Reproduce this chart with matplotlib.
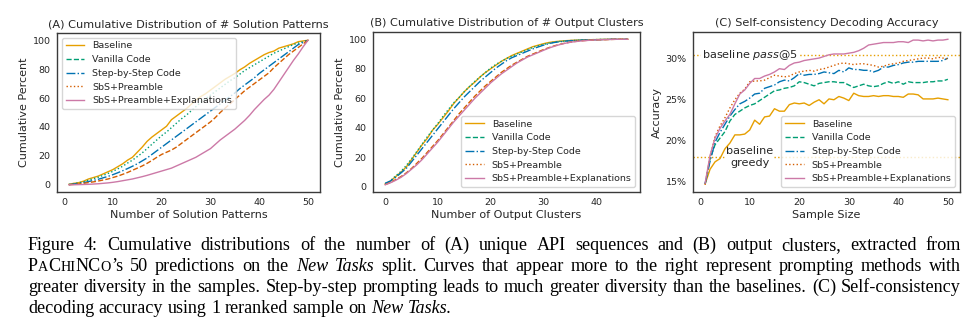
import matplotlib
matplotlib.use("Agg")
import matplotlib.pyplot as plt
from matplotlib.lines import Line2D
from matplotlib.ticker import FuncFormatter

methods = ["Baseline", "Vanilla Code", "Step-by-Step Code", "SbS+Preamble",
           "SbS+Preamble+Explanations"]
colors = ["#E69F00", "#009E73", "#0072B2", "#D55E00", "#CC79A7"]

# (A) cumulative percent vs number of solution patterns
patterns_x = list(range(1, 51))
patterns_baseline = [0.3, 1, 1.5, 2.5, 4, 5, 6, 7.5, 9, 10.5, 12.5, 14.5, 17, 19, 22.5,
                     26, 30, 33, 35.5, 38, 40.5, 45, 47.5, 50, 52.5, 55.5, 58.5, 61, 63,
                     65.5, 68, 70.5, 73, 75, 77, 79.5, 81.5, 84, 86, 88, 90, 91.5, 92.5,
                     94.5, 95.5, 96.5, 97.5, 99, 99.5, 100]
patterns_vanilla = [0.2, 0.8, 1.3, 2, 3.2, 4.2, 5.2, 6.5, 7.8, 9.3, 11, 12.8, 15, 17, 19.5,
                    22, 25, 28, 31, 34, 36.5, 39.5, 42.5, 45.5, 48, 51, 54, 57, 59.5, 62,
                    64.5, 67, 69.5, 72, 74, 76.5, 79, 81, 83, 85, 87, 89, 91, 92.5, 94,
                    95.5, 97, 98, 99, 100]
patterns_sbs = [0.1, 0.5, 1, 1.5, 2.2, 3, 3.8, 4.8, 5.8, 7, 8.3, 9.7, 11.2, 12.8, 14.5,
                16.5, 18.5, 21, 23.5, 26, 28.5, 31, 33.5, 36, 38.5, 41, 43.5, 46, 48.5,
                51, 53.5, 56, 58.5, 61, 63.5, 66.5, 69, 71.5, 74, 77, 79.5, 82, 84.5, 87,
                89.5, 92, 94.5, 97, 98.5, 100]
patterns_preamble = [0, 0.3, 0.6, 1, 1.5, 2, 2.6, 3.3, 4, 5, 6, 7.2, 8.5, 10, 11.5, 13,
                     14.8, 16.8, 19, 21, 22.5, 24, 26, 28.5, 31, 33.5, 36, 38.5, 41, 43.5,
                     46.5, 50, 53, 56, 59, 62, 65, 67.5, 70, 72.5, 75, 77.5, 81, 84, 87,
                     90, 92.5, 95, 97.5, 100]
patterns_expl = [0, 0, 0.1, 0.2, 0.3, 0.5, 0.7, 1, 1.3, 1.7, 2.2, 2.8, 3.4, 4, 4.8, 5.6,
                 6.5, 7.5, 8.5, 9.5, 10.5, 11.5, 13, 14.5, 16, 17.5, 19, 21, 23, 25, 28,
                 31, 33.5, 36, 38.5, 41.5, 44.5, 48, 52, 55.5, 59, 62, 66, 71, 76, 81, 86,
                 90.5, 95.5, 100]

# (B) cumulative percent vs number of output clusters
clusters_x = list(range(0, 47))
clusters_baseline = [2, 4, 7, 10, 13.5, 18.5, 23.5, 28.5, 33, 38.5, 42.5, 47, 51.5, 56.5,
                     60.5, 64.5, 68, 71, 74.5, 77.5, 80, 82.5, 85, 87, 89, 90.5, 92, 93.5,
                     95, 96, 97, 97.8, 98.3, 98.7, 99, 99.2, 99.4, 99.5, 99.6, 99.7, 99.8,
                     99.9, 99.9, 100, 100, 100, 100]
clusters_vanilla = [2, 4.2, 7.5, 10.5, 14.5, 19, 24, 29, 34, 38.5, 43, 48, 52.5, 57, 60.5,
                    64.5, 68, 71.5, 74.5, 77.5, 80.5, 83, 85, 87, 88.5, 90, 91.5, 93,
                    94.5, 95.5, 96.5, 97.3, 98, 98.5, 98.8, 99.1, 99.3, 99.5, 99.6, 99.7,
                    99.8, 99.9, 100, 100, 100, 100, 100]
clusters_sbs = [2.5, 4, 6.5, 9.5, 12.5, 17, 21.5, 26, 30.5, 35, 39.5, 44, 48.5, 53, 57,
                61, 64.5, 68, 71.5, 74.5, 77.5, 80.5, 83, 85.5, 87.5, 89, 90.5, 92, 93.5,
                94.8, 96, 97, 97.8, 98.3, 98.7, 99, 99.2, 99.4, 99.5, 99.6, 99.7, 99.8,
                99.9, 100, 100, 100, 100]
clusters_preamble = [1.5, 3, 5, 7, 9.5, 12.5, 16, 19.5, 23.5, 27.5, 31.5, 36, 40.5, 45,
                     49.5, 53.5, 57.5, 61.5, 65, 68.5, 71.5, 74.5, 77.5, 80, 82.5, 84.5,
                     86.5, 88.5, 90, 91.5, 93, 94.3, 95.5, 96.5, 97.3, 98, 98.5, 98.9,
                     99.2, 99.4, 99.6, 99.7, 99.8, 99.9, 100, 100, 100]
clusters_expl = [1.5, 2.8, 4.5, 6.5, 9, 12, 15, 18.5, 22.5, 26.5, 30.5, 35, 39.5, 44, 48,
                 52, 56, 60, 63.5, 67, 70.5, 73.5, 76.5, 79, 81.5, 84, 86, 88, 89.5, 91,
                 92.5, 94, 95.2, 96.3, 97.2, 97.9, 98.4, 98.8, 99.1, 99.4, 99.6, 99.7,
                 99.8, 99.9, 100, 100, 100]

# (C) self-consistency accuracy (%) vs sample size
samples_x = list(range(1, 51))
acc_baseline = [14.7, 16.5, 17.4, 17.8, 19, 19.7, 20.7, 20.7, 20.8, 21.3, 22.5, 22, 22.9,
                23, 23.9, 23.6, 23.6, 24.4, 24.6, 24.5, 24.6, 24.3, 24.7, 25, 24.5, 25.1,
                25, 25.4, 25.2, 24.9, 25.8, 25.5, 25.4, 25.4, 25.5, 25.4, 25.5, 25.5,
                25.4, 25.4, 25.3, 25.7, 25.7, 25.6, 25.1, 25.1, 25.1, 25.2, 25.1, 25.0]
acc_vanilla = [14.7, 17.8, 19.5, 20.3, 21.1, 22.4, 23.2, 23.6, 24, 24.3, 24.5, 24.9, 25.3,
               25.7, 26.1, 26.2, 26.4, 26.5, 26.7, 27.2, 27.1, 26.9, 26.7, 27, 27.1, 27.2,
               27.2, 27.1, 27.1, 26.8, 26.5, 26.7, 26.9, 26.7, 26.6, 26.7, 27, 27.2, 27,
               27.2, 26.9, 27.2, 27.1, 27.1, 27.1, 27.2, 27.2, 27.3, 27.3, 27.5]
acc_sbs = [14.7, 17.5, 19.8, 21, 22, 23, 23.8, 24.5, 24.8, 25.2, 25.7, 25.8, 26.4, 26.6,
           26.8, 27.2, 27.4, 27.3, 27.7, 28.2, 28, 28.1, 28.1, 28.2, 28.4, 28.3, 28.2,
           28.6, 28.4, 28.9, 28.7, 28.7, 28.6, 28.6, 28.4, 28.6, 29, 29, 29.2, 29.3, 29.5,
           29.6, 29.6, 29.7, 29.7, 29.7, 29.7, 29.7, 29.8, 30.1]
acc_preamble = [14.6, 18, 20.5, 21.8, 22.8, 24, 25, 25.8, 26.3, 27.2, 27.3, 27.3, 27.4,
                27.7, 28, 27.9, 27.8, 27.9, 28.2, 28.4, 28.5, 28.6, 28.5, 28.7, 28.8, 29,
                29.2, 29.4, 29.5, 29.4, 29.3, 29.4, 29.4, 29.3, 29.2, 29, 29.1, 29.3, 29.4,
                29.5, 29.7, 29.8, 29.9, 30, 30.1, 30.1, 30, 30.2, 30.1, 30.0]
acc_expl = [14.8, 18.2, 20.3, 21.5, 22.4, 23.2, 24.5, 25.7, 26.2, 27, 27.6, 27.6, 27.9,
            28.1, 28.4, 28.8, 28.7, 29.2, 29.5, 29.6, 29.8, 29.9, 30, 30.1, 30.3, 30.5,
            30.6, 30.6, 30.6, 30.7, 30.8, 31, 31.3, 31.7, 31.8, 31.9, 32, 32, 32, 32.1,
            32.1, 32, 32.3, 32.3, 32.2, 32.3, 32.2, 32.3, 32.3, 32.4]
pass_at_5 = 30.5
greedy = 18.0

caption_lines = [
    [[("Figure", "n")], [("4:", "n")], [("Cumulative", "n")], [("distributions", "n")],
     [("of", "n")], [("the", "n")], [("number", "n")], [("of", "n")], [("(A)", "n")],
     [("unique", "n")], [("API", "n")], [("sequences", "n")], [("and", "n")],
     [("(B)", "n")], [("output", "n")], [("clusters,", "n")], [("extracted", "n")],
     [("from", "n")]],
    [[("P", "n"), ("A", "s"), ("C", "n"), ("HI", "s"), ("NC", "n"), ("O", "s"), ("\u2019s", "n")],
     [("50", "n")], [("predictions", "n")], [("on", "n")], [("the", "n")],
     [("New", "i")], [("Tasks", "i")], [("split.", "n")], [("Curves", "n")],
     [("that", "n")], [("appear", "n")], [("more", "n")], [("to", "n")], [("the", "n")],
     [("right", "n")], [("represent", "n")], [("prompting", "n")], [("methods", "n")],
     [("with", "n")]],
    [[(w, "n")] for w in ("greater diversity in the samples. Step-by-step prompting leads "
                          "to much greater diversity than the baselines. (C) "
                          "Self-consistency").split()],
    [[(w, "n")] for w in "decoding accuracy using 1 reranked sample on".split()]
    + [[("New", "i")], [("Tasks.", "i")]],
]

TXT = "#262626"
plt.rcParams.update({
    "font.family": "DejaVu Sans",
    "font.size": 6.8,
    "text.color": TXT,
    "axes.labelcolor": TXT,
    "axes.edgecolor": "#3a3a3a",
    "axes.linewidth": 1.0,
    "xtick.color": TXT,
    "ytick.color": TXT,
    "xtick.major.size": 0,
    "ytick.major.size": 0,
    "xtick.major.pad": 4.5,
    "ytick.major.pad": 4.5,
    "mathtext.fontset": "dejavusans",
})

fig = plt.figure(figsize=(9.77, 3.22), dpi=100)
W, H = 977.0, 322.0
LAB = 8.0
TIT = 8.1


def box(l, t, r, b):
    return [l / W, 1 - b / H, (r - l) / W, (b - t) / H]


def legend_handles(styles):
    return [Line2D([0], [0], color=c, ls=s, lw=1.0) for c, s in zip(colors, styles)]


legend_styles = ["-", "--", "-.", ":", "-"]
drawn_styles_ab = ["-", ":", "-.", "--", "-"]

# (A)
ax1 = fig.add_axes(box(57, 33, 320, 192))
series_a = [patterns_baseline, patterns_vanilla, patterns_sbs, patterns_preamble, patterns_expl]
for ys, c, s in zip(series_a, colors, drawn_styles_ab):
    ax1.plot(patterns_x, ys, color=c, ls=s, lw=1.0)
ax1.set_yticks([0, 20, 40, 60, 80, 100])
ax1.set_xticks([0, 10, 20, 30, 40, 50])
ax1.set_xlabel("Number of Solution Patterns", fontsize=LAB, labelpad=2)
ax1.set_ylabel("Cumulative Percent", fontsize=LAB, labelpad=3)
ax1.set_title("(A) Cumulative Distribution of # Solution Patterns", fontsize=TIT, pad=4)
ax1.legend(legend_handles(legend_styles), methods, loc="upper left", fontsize=6.8)

# (B)
ax2 = fig.add_axes(box(373, 32, 640, 192))
series_b = [clusters_baseline, clusters_vanilla, clusters_sbs, clusters_preamble, clusters_expl]
for ys, c, s in zip(series_b, colors, drawn_styles_ab):
    ax2.plot(clusters_x, ys, color=c, ls=s, lw=1.0)
ax2.set_yticks([0, 20, 40, 60, 80, 100])
ax2.set_xticks([0, 10, 20, 30, 40])
ax2.set_xlabel("Number of Output Clusters", fontsize=LAB, labelpad=2)
ax2.set_ylabel("Cumulative Percent", fontsize=LAB, labelpad=3)
ax2.set_title("(B) Cumulative Distribution of # Output Clusters", fontsize=TIT, pad=4)
ax2.legend(legend_handles(legend_styles), methods, loc="lower right", fontsize=6.8)

# (C)
ax3 = fig.add_axes(box(693, 32, 960, 192))
series_c = [acc_baseline, acc_vanilla, acc_sbs, acc_preamble, acc_expl]
for ys, c, s in zip(series_c, colors, legend_styles):
    ax3.plot(samples_x, ys, color=c, ls=s, lw=1.0, zorder=3)
ax3.axhline(pass_at_5, color="#E69F00", ls=":", lw=1.0, zorder=1)
ax3.axhline(greedy, color="#E69F00", ls=":", lw=1.0, zorder=1)
ax3.text(0.3, pass_at_5, "baseline $\\mathit{pass}$@5", fontsize=8.1, va="center",
         ha="left", zorder=2,
         bbox=dict(facecolor="white", edgecolor="none", pad=0.5))
ax3.text(10, greedy, "baseline\ngreedy", fontsize=8.1, va="center", ha="center",
         linespacing=1.2, zorder=2,
         bbox=dict(facecolor="white", edgecolor="none", pad=0.5))
ax3.set_yticks([15, 20, 25, 30])
ax3.yaxis.set_major_formatter(FuncFormatter(lambda v, p: f"{v:.0f}%"))
ax3.set_xticks([0, 10, 20, 30, 40, 50])
ax3.set_xlabel("Sample Size", fontsize=LAB, labelpad=2)
ax3.set_ylabel("Accuracy", fontsize=LAB, labelpad=3)
ax3.set_title("(C) Self-consistency Decoding Accuracy", fontsize=TIT, pad=4)
ax3.legend(legend_handles(legend_styles), methods, loc="lower right", fontsize=6.8)

# caption, justified by hand
CAP = 13.1
styles = {"n": dict(fontsize=CAP), "s": dict(fontsize=CAP * 0.78),
          "i": dict(fontsize=CAP, style="italic")}
renderer = fig.canvas.get_renderer()
x_left, x_right = 28 / W, 961 / W
baselines = [250, 271, 292, 313]


def text_width(txt, st):
    t = fig.text(0, 0, txt, family="Liberation Serif", **styles[st])
    w = t.get_window_extent(renderer).width / fig.bbox.width
    t.remove()
    return w


def advance(txt, st):
    # width including side bearings: measure between two bars
    return text_width("|" + txt + "|", st) - text_width("||", st)


space_w = advance(" ", "n")

for li, words in enumerate(caption_lines):
    y = 1 - baselines[li] / H
    widths = [[advance(txt, st) for txt, st in word] for word in words]
    totals = [sum(w) for w in widths]
    if li < len(caption_lines) - 1:
        gap = (x_right - x_left - sum(totals)) / (len(words) - 1)
    else:
        gap = space_w
    x = x_left
    for word, ws, tot in zip(words, widths, totals):
        xx = x
        for (txt, st), w in zip(word, ws):
            fig.text(xx, y, txt, family="Liberation Serif", va="baseline",
                     color="black", **styles[st])
            xx += w
        x += tot + gap

fig.savefig("out.png", dpi=100)
